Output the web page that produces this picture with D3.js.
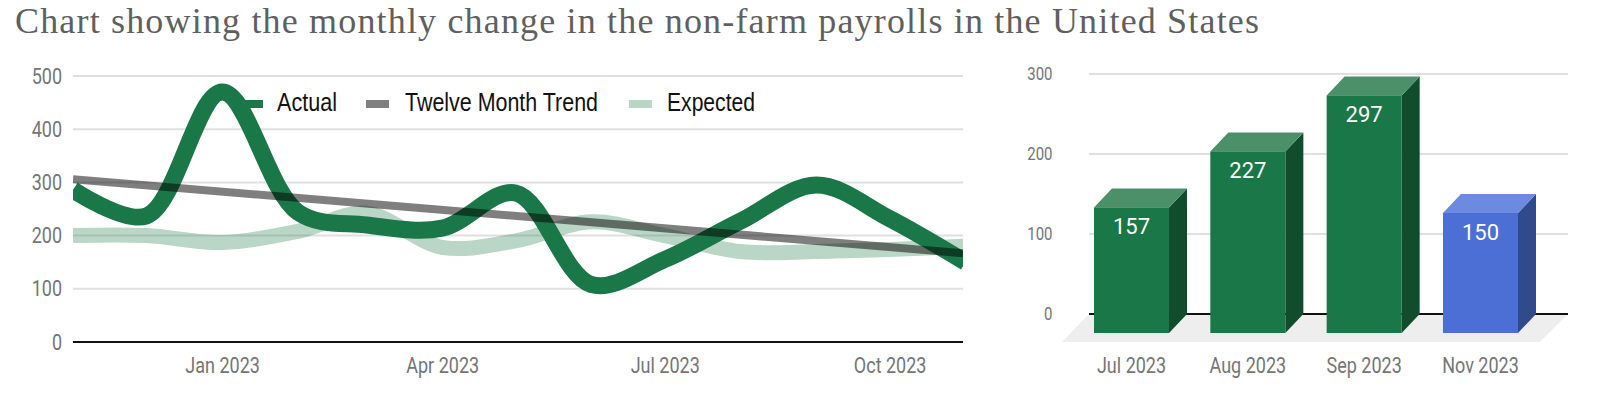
<!DOCTYPE html>
<html><head><meta charset="utf-8">
<script src="https://cdn.jsdelivr.net/npm/d3@7"></script>
<style>html,body{margin:0;padding:0;background:#fff;overflow:hidden}svg{display:block}</style>
</head><body><svg id="c" width="1600" height="402"></svg>
<script>
const titleText = "Chart showing the monthly change in the non-farm payrolls in the United States";
const months = ["2022-11-01","2022-12-01","2023-01-01","2023-02-01","2023-03-01","2023-04-01","2023-05-01","2023-06-01","2023-07-01","2023-08-01","2023-09-01","2023-10-01","2023-11-01"];
const actual = [286,237,470,244,220,214,280,108,155,227,295,232,150];
const expected = [200,200,187,208,242,178,190,226,200,170,170,174,180];
const trendStartEnd = [306,167];
const lineTicks = [0,100,200,300,400,500];
const lineTickDates = ["2023-01-01","2023-04-01","2023-07-01","2023-10-01"];
const lineTickLabels = ["Jan 2023","Apr 2023","Jul 2023","Oct 2023"];
const legendNames = ["Actual","Twelve Month Trend","Expected"];
const barCats = ["Jul 2023","Aug 2023","Sep 2023","Nov 2023"];
const barVals = [157,227,297,150];
const barTicks = [0,100,200,300];

const parse = d3.utcParse("%Y-%m-%d");
const svg = d3.select("#c");
const FONT = "Roboto, Arial, sans-serif";
const GREY = "#757575", GRID = "#e0e0e0", GREEN = "#1a7747";
const STRETCH = 1.2;

svg.append("text").attr("x",15).attr("y",33).attr("font-family","'Liberation Serif',serif")
  .attr("font-size",36).attr("fill","#5f5f5f").attr("textLength",1244).attr("lengthAdjust","spacing").text(titleText);

// ---- line chart
const x = d3.scaleUtc().domain([parse("2022-11-01"),parse("2023-10-31")]).range([73,963]);
const y = d3.scaleLinear().domain([0,500]).range([342,76]);
const g = svg.append("g");
svg.append("clipPath").attr("id","plot").append("rect").attr("x",73).attr("y",60).attr("width",890).attr("height",300);

g.append("g").selectAll("line").data(lineTicks.filter(d=>d>0)).join("line")
  .attr("x1",x.range()[0]).attr("x2",x.range()[1]).attr("y1",d=>y(d)).attr("y2",d=>y(d))
  .attr("stroke",GRID).attr("stroke-width",2);
g.append("line").attr("x1",73).attr("x2",963).attr("y1",y(0)).attr("y2",y(0)).attr("stroke","#111").attr("stroke-width",2);

const styleTick = (sel,size,baseline) => sel.attr("font-family",FONT).attr("font-size",size).attr("fill",GREY)
  .attr("x",0).attr("y",0).attr("dy",0).attr("transform",`translate(0,${baseline}) scale(1,${STRETCH})`);

const yAxis = g.append("g").attr("transform","translate(62,0)")
  .call(d3.axisLeft(y).tickValues(lineTicks).tickSize(0).tickPadding(0));
yAxis.select(".domain").remove();
styleTick(yAxis.selectAll("text"),18,7);

const xAxis = g.append("g").attr("transform","translate(0,358)")
  .call(d3.axisBottom(x).tickValues(lineTickDates.map(parse)).tickSize(0).tickPadding(0).tickFormat((d,i)=>lineTickLabels[i]));
xAxis.select(".domain").remove();
styleTick(xAxis.selectAll("text"),18,14.5);

const line = d3.line().x(d=>x(d.date)).y(d=>y(d.v)).curve(d3.curveCatmullRom.alpha(0.5));
const toPts = a => a.map((v,i)=>({date:parse(months[i]),v}));
const plot = g.append("g").attr("clip-path","url(#plot)");
plot.append("path").attr("d",line(toPts(expected))).attr("fill","none").attr("stroke",GREEN).attr("stroke-opacity",0.3).attr("stroke-width",15);
plot.append("path").attr("d",line(toPts(actual))).attr("fill","none").attr("stroke",GREEN).attr("stroke-width",17);
const trendPts = [{date:x.domain()[0],v:trendStartEnd[0]},{date:x.domain()[1],v:trendStartEnd[1]}];
plot.append("path").attr("d",d3.line().x(d=>x(d.date)).y(d=>y(d.v))(trendPts)).attr("fill","none").attr("stroke","#000").attr("stroke-opacity",0.5).attr("stroke-width",8);

// legend
const legX = [240,366,629], legTx = [277,405,667], legW = [60,193,88], legCol = [GREEN,"#808080","#b9d6c6"];
const leg = svg.append("g");
legendNames.forEach((n,i)=>{
  leg.append("rect").attr("x",legX[i]).attr("y",100).attr("width",23).attr("height",8).attr("fill",legCol[i]);
  leg.append("text").attr("transform",`translate(${legTx[i]},111) scale(1,${STRETCH})`).attr("font-family","'Liberation Sans',Arial,sans-serif")
    .attr("font-size",21.5).attr("fill","#111").attr("textLength",legW[i]).attr("lengthAdjust","spacingAndGlyphs").text(n);
});

// ---- 3D bars
const xb = d3.scaleBand().domain(barCats).range([1094,1518]).paddingInner(0.355).paddingOuter(0);
const yb = d3.scaleLinear().domain([0,300]).range([314,74]);
const dx = 18, dy = 19;
const b = svg.append("g");
b.append("g").selectAll("line").data(barTicks.filter(d=>d>0)).join("line")
  .attr("x1",1089).attr("x2",1568).attr("y1",d=>yb(d)).attr("y2",d=>yb(d)).attr("stroke",GRID).attr("stroke-width",2);
b.append("polygon").attr("points",[[1089,yb(0)],[1568,yb(0)],[1540,yb(0)+28],[1062,yb(0)+28]].join(" ")).attr("fill","#eeeeee");
b.append("line").attr("x1",1089).attr("x2",1568).attr("y1",yb(0)).attr("y2",yb(0)).attr("stroke","#111").attr("stroke-width",2);

const yAxisB = b.append("g").attr("transform","translate(1052.5,-1)")
  .call(d3.axisLeft(yb).tickValues(barTicks).tickSize(0).tickPadding(0));
yAxisB.select(".domain").remove();
styleTick(yAxisB.selectAll("text"),15,6.2);

const xAxisB = b.append("g").attr("transform","translate(0,358)")
  .call(d3.axisBottom(xb).tickSize(0).tickPadding(0));
xAxisB.select(".domain").remove();
styleTick(xAxisB.selectAll("text"),18,14.5);

const front = ["#1a7747","#1a7747","#1a7747","#4c6fd6"], top_ = ["#4b9069","#4b9069","#4b9069","#6b8ae0"], side = ["#114d2d","#114d2d","#114d2d","#304a8c"];
barVals.forEach((v,i)=>{
  const x0 = xb(barCats[i]), w = xb.bandwidth(), t = yb(v)+dy, bot = yb(0)+dy;
  b.append("polygon").attr("points",[[x0+w,t],[x0+w+dx,t-dy],[x0+w+dx,bot-dy],[x0+w,bot]].join(" ")).attr("fill",side[i]);
  b.append("polygon").attr("points",[[x0,t],[x0+dx,t-dy],[x0+w+dx,t-dy],[x0+w,t]].join(" ")).attr("fill",top_[i]);
  b.append("rect").attr("x",x0).attr("y",t).attr("width",w).attr("height",bot-t).attr("fill",front[i]);
  b.append("text").attr("x",x0+w/2).attr("y",t+27).attr("text-anchor","middle").attr("font-family",FONT)
    .attr("font-size",22).attr("fill","#fff").text(v);
});
</script></body></html>
